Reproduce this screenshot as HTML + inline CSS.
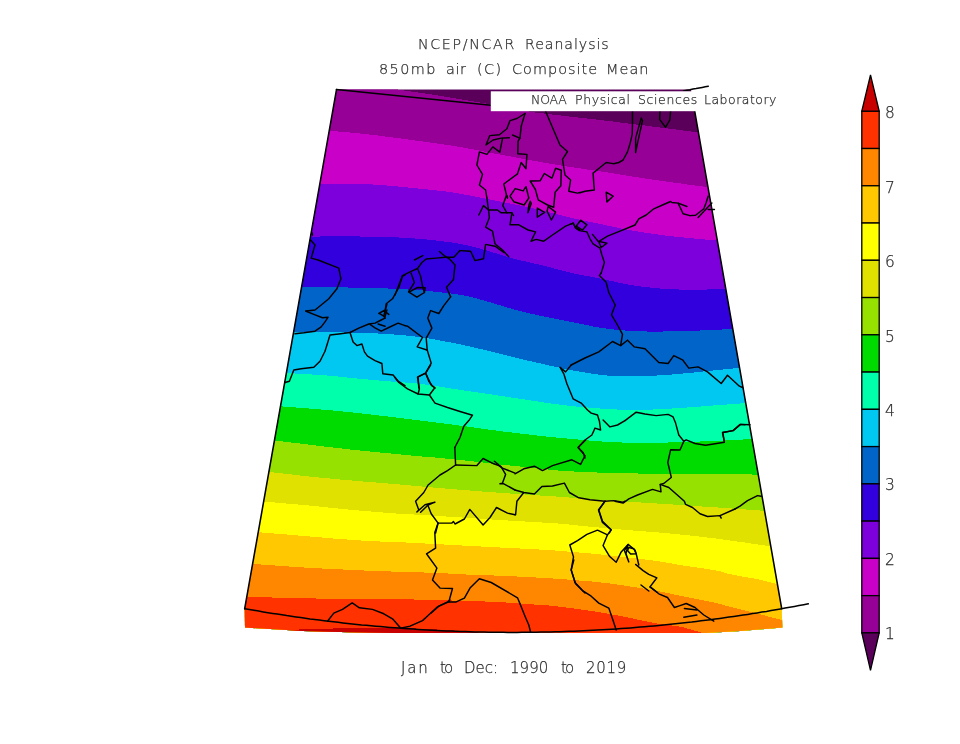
<!DOCTYPE html>
<html><head><meta charset="utf-8"><title>NCEP/NCAR Reanalysis 850mb air (C) Composite Mean</title>
<style>
html,body{margin:0;padding:0;background:#fff;}
body{width:960px;height:744px;position:relative;overflow:hidden;font-family:"DejaVu Sans Light","DejaVu Sans","Liberation Sans",sans-serif;font-weight:200;color:#2e2e2e;}
.t{position:absolute;white-space:nowrap;line-height:1;margin:0;will-change:transform;-webkit-text-stroke:0.25px #2e2e2e;}
</style></head><body>
<svg width="960" height="744" viewBox="0 0 960 744" style="position:absolute;left:0;top:0">
<defs><clipPath id="mapclip"><polygon points="336.5,89.6 244.7,608.7 245.0,627.6 303.0,630.9 350.0,632.3 396.0,633.1 705.0,633.1 740.0,631.0 782.3,627.6 781.7,608.7 690.9,89.6"/></clipPath></defs>
<g clip-path="url(#mapclip)" shape-rendering="crispEdges">
<rect x="200" y="60" width="660" height="620" fill="#5a005a"/>
<polygon points="200.0,56.0 207.9,57.4 218.7,59.2 231.5,61.4 245.6,63.8 260.3,66.3 274.8,68.8 288.3,71.0 300.0,73.0 310.5,74.7 320.5,76.3 330.2,77.8 339.4,79.2 348.0,80.5 356.0,81.8 363.4,82.9 370.0,84.0 375.7,85.0 380.3,85.8 384.2,86.6 387.5,87.3 390.5,88.0 393.4,88.6 396.5,89.2 400.0,89.8 403.8,90.4 407.5,91.0 411.2,91.5 415.0,92.0 418.8,92.6 422.5,93.1 426.2,93.6 430.0,94.2 433.7,94.8 437.5,95.4 441.2,96.0 444.9,96.7 448.7,97.3 452.4,97.9 456.2,98.6 460.0,99.2 463.8,99.8 467.6,100.4 471.3,101.1 475.1,101.7 479.0,102.3 482.9,103.0 486.9,103.7 491.0,104.4 495.3,105.2 500.0,106.1 504.7,107.0 509.5,107.9 514.2,108.9 518.8,109.7 523.1,110.5 527.0,111.2 530.3,111.7 533.0,112.2 535.4,112.5 537.6,112.8 540.0,113.1 542.7,113.4 545.9,113.8 550.0,114.3 555.0,114.9 560.6,115.5 566.8,116.2 573.3,117.0 580.1,117.7 586.9,118.5 593.6,119.2 600.0,120.0 606.3,120.8 612.6,121.5 618.9,122.3 625.2,123.1 631.5,123.9 637.8,124.7 643.9,125.4 650.0,126.2 656.1,127.0 662.1,127.8 668.2,128.5 674.2,129.3 680.0,130.1 685.7,130.8 691.1,131.5 696.3,132.2 701.3,132.8 706.4,133.5 711.3,134.1 716.0,134.7 720.4,135.3 724.2,135.8 727.5,136.2 730.0,136.5 730.0,700.0 200.0,700.0" fill="#960096"/>
<polygon points="300.0,128.5 302.3,128.7 305.4,128.9 309.2,129.2 313.3,129.5 317.6,129.9 321.8,130.2 325.8,130.5 329.2,130.8 332.1,131.0 334.8,131.2 337.2,131.4 339.5,131.6 341.9,131.8 344.3,132.0 347.0,132.2 350.0,132.5 353.2,132.8 356.4,133.1 359.7,133.5 363.2,133.8 366.9,134.2 370.9,134.7 375.2,135.2 380.0,135.8 385.4,136.5 391.6,137.3 398.2,138.2 405.0,139.1 411.8,140.0 418.4,140.9 424.6,141.7 430.0,142.5 434.6,143.1 438.4,143.7 441.8,144.1 445.0,144.6 448.2,145.1 451.6,145.6 455.4,146.2 460.0,147.0 465.3,147.9 471.1,149.0 477.3,150.2 483.8,151.4 490.4,152.7 497.0,154.0 503.6,155.2 510.0,156.4 516.3,157.6 522.7,158.8 529.2,159.9 535.6,161.1 542.0,162.3 548.2,163.4 554.2,164.4 560.0,165.4 565.4,166.3 570.5,167.0 575.3,167.8 580.0,168.4 584.7,169.1 589.5,169.8 594.6,170.5 600.0,171.3 605.7,172.2 611.6,173.1 617.7,174.1 624.0,175.1 630.3,176.2 636.8,177.2 643.4,178.2 650.0,179.2 656.9,180.2 664.2,181.2 671.6,182.3 679.2,183.3 686.6,184.4 693.7,185.3 700.3,186.2 706.3,187.0 711.8,187.7 717.1,188.4 722.1,189.0 726.7,189.5 730.8,190.0 734.5,190.4 737.6,190.7 740.0,191.0 740.0,700.0 300.0,700.0" fill="#c800c8"/>
<polygon points="290.0,183.7 292.3,183.7 295.5,183.7 299.2,183.7 303.3,183.7 307.6,183.7 312.1,183.7 316.3,183.7 320.3,183.7 324.0,183.7 327.8,183.7 331.5,183.7 335.2,183.7 338.9,183.7 342.6,183.7 346.3,183.7 350.0,183.8 353.6,183.9 357.0,183.9 360.3,184.0 363.7,184.1 367.3,184.2 371.1,184.4 375.3,184.7 380.0,185.0 385.4,185.4 391.6,185.9 398.2,186.5 405.0,187.2 411.8,187.8 418.4,188.5 424.6,189.1 430.0,189.7 434.6,190.2 438.7,190.7 442.3,191.1 445.6,191.5 448.9,192.0 452.3,192.4 455.9,193.0 460.0,193.7 464.5,194.5 469.4,195.4 474.4,196.4 479.6,197.4 484.9,198.4 490.0,199.5 495.1,200.5 500.0,201.5 504.7,202.4 509.3,203.4 513.9,204.3 518.4,205.2 522.8,206.1 527.2,207.1 531.6,208.0 536.0,209.0 540.4,210.0 544.7,211.1 549.1,212.2 553.4,213.3 557.6,214.4 561.8,215.5 566.0,216.5 570.0,217.5 573.9,218.4 577.7,219.3 581.4,220.1 585.1,220.9 588.7,221.6 592.4,222.4 596.1,223.2 600.0,224.0 604.0,224.8 608.0,225.7 612.1,226.6 616.3,227.4 620.4,228.3 624.6,229.1 628.8,229.9 633.0,230.7 637.2,231.4 641.4,232.1 645.6,232.8 649.8,233.4 654.1,234.0 658.3,234.6 662.5,235.2 666.7,235.7 671.0,236.2 675.5,236.7 680.0,237.1 684.5,237.6 688.8,238.0 692.9,238.4 696.7,238.7 700.0,239.0 702.7,239.3 704.7,239.5 706.4,239.6 707.8,239.8 709.3,239.9 711.0,240.0 713.1,240.1 715.8,240.3 719.4,240.5 723.9,240.7 728.8,241.0 733.9,241.2 738.9,241.5 743.4,241.7 747.2,241.9 750.0,242.0 750.0,700.0 290.0,700.0" fill="#7d00dc"/>
<polygon points="280.0,236.5 282.3,236.5 285.2,236.5 288.7,236.5 292.7,236.5 296.9,236.5 301.4,236.5 305.9,236.5 310.3,236.5 314.8,236.5 319.6,236.5 324.6,236.4 329.7,236.4 334.8,236.4 340.0,236.4 345.1,236.4 350.0,236.4 354.9,236.4 359.9,236.5 364.9,236.5 369.8,236.6 374.6,236.7 379.3,236.8 383.8,236.9 388.0,237.0 391.9,237.1 395.6,237.3 399.0,237.5 402.3,237.6 405.5,237.8 408.6,238.0 411.8,238.3 415.0,238.5 418.2,238.8 421.4,239.0 424.5,239.3 427.6,239.6 430.7,239.9 433.8,240.3 436.9,240.6 440.0,241.0 443.1,241.4 446.2,241.8 449.4,242.2 452.5,242.6 455.6,243.1 458.8,243.6 461.9,244.2 465.0,244.8 468.1,245.5 471.2,246.3 474.4,247.1 477.5,247.9 480.6,248.8 483.8,249.7 486.9,250.6 490.0,251.5 493.1,252.4 496.2,253.4 499.4,254.3 502.5,255.3 505.6,256.3 508.8,257.2 511.9,258.1 515.0,259.0 518.1,259.8 521.1,260.5 524.0,261.2 527.0,261.8 530.0,262.5 533.2,263.2 536.5,264.0 540.0,264.8 543.8,265.7 547.8,266.8 552.1,267.9 556.4,269.0 560.7,270.2 565.0,271.3 569.1,272.3 573.0,273.2 576.6,274.0 580.0,274.7 583.3,275.3 586.5,276.0 589.7,276.5 593.0,277.1 596.4,277.8 600.0,278.5 603.8,279.3 607.8,280.2 611.9,281.1 616.1,282.0 620.3,282.9 624.6,283.8 628.8,284.6 633.0,285.3 637.2,285.9 641.4,286.5 645.6,287.1 649.8,287.5 654.1,288.0 658.3,288.4 662.5,288.7 666.7,289.0 670.9,289.2 675.2,289.4 679.5,289.5 683.8,289.5 688.1,289.5 692.2,289.5 696.2,289.5 700.0,289.5 703.5,289.5 706.8,289.5 709.9,289.4 712.8,289.3 715.8,289.3 718.9,289.2 722.2,289.1 725.8,289.0 729.9,288.9 734.6,288.8 739.5,288.6 744.5,288.5 749.3,288.3 753.7,288.2 757.3,288.1 760.0,288.0 760.0,700.0 280.0,700.0" fill="#3200dc"/>
<polygon points="270.0,287.3 272.3,287.3 275.2,287.3 278.6,287.3 282.5,287.3 286.8,287.3 291.6,287.3 296.9,287.3 302.5,287.3 308.8,287.3 315.9,287.3 323.6,287.3 331.7,287.4 339.9,287.4 348.0,287.5 355.7,287.6 363.0,287.7 369.9,287.9 376.8,288.1 383.5,288.3 390.1,288.6 396.4,288.9 402.4,289.2 407.9,289.5 413.0,289.8 417.5,290.1 421.4,290.4 424.9,290.7 428.1,291.0 431.0,291.3 433.9,291.6 436.9,291.9 440.0,292.3 443.2,292.7 446.4,293.0 449.5,293.4 452.6,293.7 455.7,294.2 458.8,294.6 461.9,295.1 465.0,295.7 468.1,296.4 471.2,297.1 474.4,297.9 477.5,298.7 480.6,299.6 483.8,300.5 486.9,301.4 490.0,302.3 493.1,303.2 496.2,304.1 499.4,305.1 502.5,306.1 505.6,307.1 508.8,308.0 511.9,308.9 515.0,309.8 518.1,310.6 521.1,311.4 524.0,312.1 527.0,312.8 530.0,313.5 533.2,314.2 536.5,314.9 540.0,315.7 543.8,316.5 547.8,317.3 552.1,318.2 556.4,319.0 560.7,319.9 565.0,320.7 569.1,321.5 573.0,322.3 576.7,323.0 580.2,323.8 583.7,324.5 587.0,325.2 590.3,325.8 593.5,326.5 596.8,327.1 600.0,327.6 603.2,328.1 606.4,328.5 609.5,328.9 612.6,329.3 615.7,329.7 618.8,330.0 621.9,330.2 625.0,330.5 628.1,330.7 631.2,330.9 634.4,331.1 637.5,331.2 640.6,331.3 643.8,331.4 646.9,331.5 650.0,331.5 653.1,331.5 656.2,331.5 659.4,331.5 662.5,331.5 665.6,331.4 668.8,331.3 671.9,331.3 675.0,331.2 678.1,331.1 681.1,331.1 684.0,331.0 687.0,330.9 690.0,330.8 693.2,330.7 696.5,330.6 700.0,330.5 703.7,330.4 707.6,330.2 711.6,330.0 715.8,329.8 720.0,329.6 724.3,329.4 728.6,329.2 733.0,329.0 737.7,328.8 742.8,328.5 748.2,328.2 753.6,327.9 758.7,327.6 763.3,327.4 767.1,327.2 770.0,327.0 770.0,700.0 270.0,700.0" fill="#0064c8"/>
<polygon points="260.0,332.3 262.5,332.3 265.5,332.3 269.2,332.3 273.4,332.3 278.0,332.3 283.0,332.3 288.3,332.3 293.8,332.3 299.9,332.3 306.7,332.3 313.9,332.3 321.5,332.4 329.1,332.4 336.6,332.4 343.6,332.5 350.0,332.6 355.8,332.7 361.4,332.9 366.6,333.0 371.6,333.2 376.4,333.4 381.1,333.7 385.6,333.9 390.0,334.2 394.2,334.5 398.1,334.8 401.8,335.1 405.4,335.4 408.9,335.8 412.5,336.2 416.2,336.7 420.0,337.2 424.0,337.8 428.1,338.4 432.2,339.1 436.4,339.8 440.7,340.6 444.9,341.4 449.1,342.2 453.3,343.0 457.5,343.9 461.6,344.7 465.8,345.7 470.0,346.6 474.2,347.6 478.4,348.5 482.5,349.5 486.7,350.5 490.9,351.5 495.0,352.5 499.2,353.6 503.4,354.6 507.5,355.7 511.7,356.8 515.8,357.8 520.0,358.8 524.2,359.8 528.5,360.8 532.8,361.8 537.1,362.7 541.3,363.7 545.4,364.6 549.5,365.5 553.3,366.3 556.9,367.1 560.3,367.8 563.5,368.5 566.6,369.2 569.8,369.8 573.0,370.5 576.4,371.1 580.0,371.7 583.8,372.3 587.9,373.0 592.0,373.6 596.2,374.2 600.5,374.8 604.8,375.3 609.1,375.7 613.3,376.0 617.5,376.2 621.6,376.4 625.8,376.4 630.0,376.4 634.2,376.4 638.4,376.3 642.5,376.1 646.7,376.0 650.9,375.8 655.0,375.6 659.2,375.4 663.4,375.1 667.5,374.8 671.7,374.5 675.8,374.1 680.0,373.8 684.2,373.4 688.5,373.0 692.9,372.6 697.2,372.2 701.5,371.7 705.6,371.3 709.6,370.9 713.3,370.5 716.7,370.2 719.7,369.9 722.5,369.6 725.1,369.3 727.9,369.0 730.7,368.7 733.9,368.4 737.5,368.0 741.8,367.5 746.8,367.0 752.2,366.4 757.8,365.8 763.1,365.3 767.9,364.8 772.0,364.3 775.0,364.0 775.0,700.0 260.0,700.0" fill="#00c8f0"/>
<polygon points="255.0,371.0 257.5,371.2 260.7,371.3 264.5,371.6 268.8,371.8 273.4,372.1 278.1,372.4 282.9,372.7 287.5,373.0 292.1,373.3 297.0,373.6 302.0,373.9 307.0,374.2 312.1,374.5 317.2,374.8 322.0,375.1 326.7,375.5 331.1,375.9 335.4,376.3 339.6,376.7 343.7,377.1 347.8,377.6 351.8,378.0 355.9,378.4 360.0,378.8 364.2,379.2 368.5,379.6 372.8,380.0 377.1,380.3 381.3,380.7 385.4,381.0 389.5,381.4 393.3,381.7 396.9,382.0 400.3,382.2 403.5,382.4 406.6,382.6 409.8,382.8 413.0,383.1 416.4,383.4 420.0,383.8 423.8,384.3 427.9,384.8 432.0,385.5 436.2,386.1 440.5,386.8 444.8,387.5 449.1,388.2 453.3,388.8 457.5,389.4 461.6,390.1 465.8,390.7 470.0,391.3 474.2,391.9 478.4,392.6 482.5,393.2 486.7,393.8 490.9,394.4 495.0,395.1 499.2,395.7 503.4,396.3 507.5,396.9 511.7,397.6 515.8,398.2 520.0,398.8 524.2,399.4 528.5,400.1 532.8,400.8 537.1,401.4 541.3,402.1 545.4,402.7 549.5,403.3 553.3,403.8 556.9,404.3 560.3,404.7 563.5,405.1 566.6,405.5 569.8,405.8 573.0,406.1 576.4,406.5 580.0,406.8 583.8,407.2 587.9,407.5 592.0,407.9 596.2,408.2 600.5,408.5 604.8,408.8 609.1,409.1 613.3,409.3 617.5,409.5 621.6,409.6 625.8,409.7 630.0,409.8 634.2,409.8 638.4,409.8 642.5,409.8 646.7,409.7 650.9,409.6 655.0,409.4 659.2,409.3 663.4,409.0 667.5,408.8 671.7,408.5 675.8,408.3 680.0,408.0 684.2,407.7 688.3,407.4 692.5,407.1 696.7,406.8 700.9,406.5 705.0,406.1 709.2,405.8 713.3,405.5 717.4,405.2 721.5,404.9 725.5,404.6 729.6,404.3 733.7,404.0 737.7,403.7 741.9,403.3 746.0,403.0 750.4,402.6 755.2,402.2 760.1,401.8 765.0,401.3 769.7,400.9 773.9,400.6 777.4,400.2 780.0,400.0 780.0,700.0 255.0,700.0" fill="#00ffaa"/>
<polygon points="250.0,404.0 252.3,404.2 255.2,404.4 258.6,404.6 262.5,404.9 266.8,405.2 271.3,405.6 276.0,405.9 280.8,406.3 285.9,406.7 291.5,407.1 297.5,407.6 303.6,408.1 309.7,408.6 315.8,409.1 321.5,409.5 326.7,410.0 331.5,410.4 335.9,410.8 340.1,411.2 344.1,411.6 348.1,412.0 352.0,412.4 355.9,412.9 360.0,413.3 364.2,413.8 368.5,414.2 372.8,414.7 377.1,415.3 381.3,415.8 385.4,416.3 389.5,416.7 393.3,417.2 396.9,417.6 400.3,418.0 403.5,418.4 406.6,418.8 409.8,419.2 413.0,419.6 416.4,420.0 420.0,420.5 423.8,421.0 427.9,421.5 432.0,422.0 436.2,422.5 440.5,423.1 444.8,423.6 449.1,424.1 453.3,424.7 457.5,425.3 461.6,425.8 465.8,426.4 470.0,427.0 474.2,427.6 478.4,428.2 482.5,428.7 486.7,429.3 490.9,429.8 495.0,430.4 499.2,430.9 503.4,431.5 507.5,432.0 511.7,432.5 515.8,433.0 520.0,433.5 524.2,434.0 528.5,434.5 532.8,435.0 537.1,435.5 541.3,435.9 545.4,436.4 549.5,436.8 553.3,437.2 556.9,437.6 560.3,437.9 563.5,438.2 566.6,438.5 569.8,438.8 573.0,439.1 576.4,439.4 580.0,439.7 583.8,440.0 587.9,440.4 592.0,440.7 596.2,441.1 600.5,441.4 604.8,441.7 609.1,442.0 613.3,442.2 617.5,442.4 621.6,442.5 625.8,442.6 630.0,442.6 634.2,442.7 638.4,442.7 642.5,442.7 646.7,442.7 650.9,442.7 655.0,442.7 659.2,442.6 663.4,442.6 667.5,442.5 671.7,442.4 675.8,442.3 680.0,442.2 684.1,442.1 688.2,442.0 692.2,441.8 696.3,441.7 700.4,441.5 704.6,441.4 708.9,441.2 713.3,441.0 717.9,440.8 722.7,440.6 727.6,440.3 732.6,440.1 737.7,439.8 742.7,439.5 747.6,439.3 752.5,439.0 757.5,438.7 762.9,438.5 768.3,438.2 773.7,437.9 778.8,437.6 783.3,437.4 787.1,437.2 790.0,437.0 790.0,700.0 250.0,700.0" fill="#00dc00"/>
<polygon points="245.0,437.0 247.2,437.3 249.9,437.6 253.1,437.9 256.8,438.4 260.8,438.8 265.3,439.3 270.0,439.9 275.0,440.5 280.5,441.2 286.8,441.9 293.6,442.8 300.6,443.6 307.7,444.5 314.6,445.3 321.0,446.1 326.7,446.8 331.7,447.4 336.3,447.9 340.5,448.4 344.5,448.8 348.3,449.3 352.1,449.7 356.0,450.1 360.0,450.5 364.2,450.9 368.5,451.4 372.8,451.8 377.1,452.2 381.3,452.6 385.4,453.0 389.5,453.4 393.3,453.8 397.0,454.2 400.8,454.5 404.4,454.9 407.9,455.2 411.3,455.5 414.4,455.8 417.4,456.1 420.0,456.3 422.1,456.5 423.7,456.6 425.0,456.7 426.1,456.7 427.2,456.8 428.6,456.9 430.5,457.1 433.0,457.3 436.2,457.6 440.0,458.0 444.1,458.4 448.6,458.8 453.2,459.3 457.8,459.8 462.4,460.2 466.7,460.7 470.9,461.2 475.1,461.6 479.2,462.1 483.4,462.6 487.5,463.1 491.7,463.6 495.8,464.0 500.0,464.5 504.2,464.9 508.5,465.4 512.8,465.8 517.1,466.2 521.3,466.6 525.4,467.0 529.5,467.4 533.3,467.8 536.9,468.2 540.3,468.6 543.5,469.0 546.6,469.4 549.8,469.7 553.0,470.1 556.4,470.4 560.0,470.7 563.8,471.0 567.9,471.2 572.0,471.4 576.2,471.6 580.5,471.8 584.8,472.0 589.1,472.1 593.3,472.3 597.5,472.5 601.6,472.6 605.8,472.7 610.0,472.9 614.2,473.0 618.4,473.1 622.5,473.2 626.7,473.3 630.8,473.4 634.6,473.4 638.5,473.5 642.3,473.5 646.3,473.6 650.5,473.6 655.0,473.6 660.0,473.7 665.5,473.8 671.4,473.8 677.6,473.9 684.1,474.0 690.7,474.0 697.2,474.1 703.7,474.1 710.0,474.2 716.2,474.2 722.4,474.3 728.6,474.3 734.8,474.4 740.9,474.4 746.8,474.4 752.5,474.5 758.0,474.5 763.4,474.5 768.9,474.6 774.3,474.6 779.5,474.7 784.3,474.7 788.6,474.7 792.2,474.8 795.0,474.8 795.0,700.0 245.0,700.0" fill="#96e100"/>
<polygon points="240.0,469.0 242.2,469.2 245.2,469.5 248.6,469.9 252.5,470.2 256.7,470.7 261.1,471.1 265.4,471.5 269.7,472.0 274.0,472.5 278.5,473.0 283.2,473.5 288.0,474.1 292.8,474.6 297.5,475.2 302.2,475.7 306.7,476.2 311.0,476.7 315.3,477.1 319.5,477.5 323.6,477.9 327.7,478.3 331.8,478.7 335.9,479.1 340.0,479.5 344.2,479.9 348.5,480.2 352.8,480.6 357.1,481.0 361.3,481.3 365.4,481.7 369.5,482.0 373.3,482.3 376.9,482.6 380.3,482.9 383.5,483.1 386.6,483.4 389.8,483.6 393.0,483.9 396.4,484.2 400.0,484.5 403.8,484.8 407.9,485.2 412.0,485.6 416.2,486.0 420.5,486.4 424.8,486.7 429.1,487.1 433.3,487.5 437.5,487.9 441.6,488.2 445.8,488.6 450.0,488.9 454.2,489.3 458.4,489.6 462.5,490.0 466.7,490.3 470.9,490.6 475.0,491.0 479.2,491.3 483.4,491.6 487.5,491.9 491.7,492.2 495.8,492.5 500.0,492.8 504.2,493.1 508.5,493.4 512.8,493.7 517.1,493.9 521.3,494.2 525.4,494.5 529.5,494.7 533.3,495.0 536.9,495.2 540.3,495.5 543.5,495.7 546.6,495.9 549.8,496.1 553.0,496.3 556.4,496.5 560.0,496.8 563.8,497.1 567.9,497.4 572.0,497.8 576.2,498.1 580.5,498.5 584.8,498.8 589.1,499.2 593.3,499.5 597.5,499.8 601.6,500.1 605.8,500.4 610.0,500.6 614.2,500.9 618.4,501.2 622.5,501.4 626.7,501.7 630.8,502.0 634.6,502.2 638.5,502.4 642.3,502.6 646.3,502.9 650.5,503.1 655.0,503.4 660.0,503.7 665.4,504.0 671.2,504.4 677.4,504.8 683.8,505.2 690.3,505.7 696.9,506.1 703.5,506.6 710.0,507.0 716.6,507.4 723.5,507.9 730.5,508.4 737.5,508.9 744.4,509.4 751.1,509.8 757.4,510.3 763.3,510.7 768.9,511.1 774.5,511.5 779.9,511.9 785.0,512.3 789.7,512.7 793.8,513.0 797.3,513.3 800.0,513.5 800.0,700.0 240.0,700.0" fill="#e1e100"/>
<polygon points="235.0,499.0 237.2,499.2 240.1,499.5 243.5,499.8 247.4,500.1 251.6,500.5 256.0,500.9 260.5,501.3 265.0,501.7 269.7,502.1 274.8,502.5 280.1,503.0 285.6,503.5 291.2,503.9 296.6,504.4 301.8,504.9 306.7,505.3 311.3,505.7 315.6,506.2 319.8,506.6 323.9,507.0 327.9,507.5 331.9,507.9 335.9,508.3 340.0,508.7 344.2,509.1 348.5,509.5 352.8,509.9 357.1,510.3 361.3,510.7 365.4,511.0 369.5,511.4 373.3,511.7 376.9,512.0 380.3,512.3 383.5,512.5 386.6,512.8 389.8,513.0 393.0,513.2 396.4,513.5 400.0,513.7 403.8,513.9 407.9,514.2 412.0,514.4 416.2,514.7 420.5,514.9 424.8,515.2 429.1,515.4 433.3,515.7 437.5,516.0 441.6,516.2 445.8,516.5 450.0,516.7 454.2,517.0 458.4,517.3 462.5,517.5 466.7,517.8 470.9,518.1 475.0,518.3 479.2,518.6 483.4,518.9 487.5,519.2 491.7,519.5 495.8,519.7 500.0,520.0 504.2,520.3 508.5,520.5 512.8,520.8 517.1,521.0 521.3,521.3 525.4,521.5 529.5,521.8 533.3,522.0 536.9,522.2 540.3,522.4 543.5,522.6 546.6,522.8 549.8,523.0 553.0,523.2 556.4,523.4 560.0,523.7 563.8,524.0 567.9,524.4 572.0,524.8 576.2,525.3 580.5,525.7 584.8,526.2 589.1,526.6 593.3,527.0 597.5,527.4 601.6,527.8 605.8,528.2 610.0,528.5 614.2,528.9 618.4,529.3 622.5,529.6 626.7,530.0 630.8,530.3 634.6,530.6 638.5,530.9 642.3,531.2 646.3,531.5 650.5,531.8 655.0,532.2 660.0,532.6 665.4,533.1 671.1,533.6 677.1,534.2 683.4,534.8 689.9,535.5 696.5,536.2 703.2,537.0 710.0,537.8 717.1,538.7 724.6,539.7 732.4,540.8 740.3,541.9 748.0,543.0 755.5,544.1 762.5,545.1 768.8,546.0 774.7,546.8 780.3,547.6 785.6,548.3 790.6,549.0 795.1,549.6 799.0,550.2 802.4,550.6 805.0,551.0 805.0,700.0 235.0,700.0" fill="#ffff00"/>
<polygon points="230.0,530.0 232.2,530.2 234.9,530.4 238.2,530.6 241.9,530.9 246.0,531.2 250.4,531.6 255.0,531.9 259.7,532.3 264.8,532.7 270.6,533.2 276.7,533.7 283.0,534.2 289.3,534.7 295.5,535.3 301.4,535.8 306.7,536.2 311.5,536.6 316.0,537.0 320.2,537.4 324.2,537.7 328.1,538.0 332.0,538.4 335.9,538.7 340.0,539.0 344.2,539.3 348.5,539.6 352.8,539.9 357.1,540.2 361.3,540.5 365.4,540.7 369.5,541.0 373.3,541.2 376.9,541.4 380.3,541.5 383.5,541.6 386.6,541.7 389.8,541.8 393.0,541.9 396.4,542.0 400.0,542.2 403.8,542.4 407.9,542.6 412.0,542.8 416.2,543.1 420.5,543.3 424.8,543.5 429.1,543.8 433.3,544.0 437.5,544.2 441.6,544.4 445.8,544.6 450.0,544.9 454.2,545.1 458.4,545.3 462.5,545.5 466.7,545.7 470.9,545.9 475.0,546.1 479.2,546.4 483.4,546.6 487.5,546.8 491.7,547.1 495.8,547.3 500.0,547.5 504.2,547.7 508.6,547.9 513.0,548.2 517.3,548.4 521.6,548.6 525.7,548.8 529.6,549.0 533.3,549.2 536.5,549.4 539.1,549.5 541.4,549.6 543.6,549.7 546.0,549.9 548.7,550.0 551.9,550.3 556.0,550.6 560.9,551.0 566.6,551.5 572.8,552.0 579.3,552.5 586.1,553.1 592.9,553.7 599.6,554.4 606.0,555.0 612.4,555.7 619.1,556.4 625.9,557.2 632.6,558.0 639.2,558.8 645.3,559.5 651.0,560.2 656.0,560.9 660.2,561.5 663.5,562.0 666.4,562.5 668.9,563.0 671.3,563.4 673.8,563.9 676.6,564.4 680.0,565.0 684.1,565.6 688.7,566.3 693.6,567.0 698.6,567.8 703.6,568.5 708.3,569.2 712.5,569.9 716.0,570.5 718.7,571.0 720.7,571.5 722.2,571.9 723.4,572.3 724.5,572.8 725.9,573.2 727.6,573.7 730.0,574.2 733.1,574.8 736.7,575.5 740.6,576.2 744.8,577.0 749.0,577.7 753.0,578.4 756.7,579.1 760.0,579.8 762.7,580.4 764.9,580.9 766.8,581.4 768.6,581.9 770.4,582.4 772.4,582.9 774.7,583.5 777.5,584.2 781.1,585.1 785.3,586.1 790.0,587.2 794.8,588.4 799.5,589.5 803.8,590.5 807.4,591.4 810.0,592.0 810.0,700.0 230.0,700.0" fill="#ffc800"/>
<polygon points="225.0,562.0 227.1,562.1 229.7,562.3 232.9,562.5 236.5,562.8 240.4,563.1 244.7,563.4 249.2,563.7 254.0,564.0 259.1,564.4 264.8,564.8 270.8,565.2 277.0,565.7 283.5,566.1 290.0,566.6 296.4,567.0 302.7,567.4 308.9,567.8 315.3,568.1 321.6,568.5 328.0,568.8 334.4,569.1 340.6,569.4 346.8,569.7 352.7,570.0 358.5,570.3 364.1,570.5 369.7,570.7 375.1,570.9 380.5,571.1 385.8,571.3 390.9,571.5 396.0,571.7 400.9,571.9 405.6,572.0 410.2,572.1 414.7,572.2 419.2,572.3 423.7,572.5 428.4,572.6 433.3,572.8 438.5,573.0 444.0,573.3 449.7,573.6 455.5,573.9 461.1,574.2 466.5,574.5 471.5,574.8 476.0,575.0 479.8,575.2 483.1,575.3 486.0,575.3 488.6,575.4 491.1,575.4 493.8,575.5 496.7,575.6 500.0,575.7 503.8,575.9 507.9,576.0 512.3,576.2 516.7,576.5 521.2,576.7 525.5,576.9 529.6,577.1 533.3,577.3 536.5,577.5 539.1,577.6 541.4,577.7 543.6,577.8 546.0,578.0 548.7,578.2 551.9,578.4 556.0,578.7 560.9,579.1 566.6,579.5 572.8,579.9 579.3,580.5 586.1,581.0 592.9,581.6 599.6,582.3 606.0,583.0 612.4,583.8 619.1,584.8 625.9,585.8 632.6,586.9 639.2,587.9 645.3,589.0 651.0,589.9 656.0,590.8 660.2,591.5 663.5,592.2 666.4,592.8 668.9,593.3 671.3,593.9 673.8,594.5 676.6,595.1 680.0,595.8 684.1,596.6 688.7,597.5 693.6,598.5 698.6,599.5 703.6,600.5 708.3,601.4 712.5,602.3 716.0,603.0 718.5,603.6 720.2,603.9 721.2,604.2 722.0,604.5 722.9,604.8 724.3,605.2 726.6,605.8 730.0,606.7 734.8,607.9 740.8,609.5 747.6,611.2 754.9,613.0 762.4,614.9 769.6,616.8 776.3,618.5 782.2,620.0 787.5,621.4 792.5,622.8 797.4,624.1 801.9,625.3 806.0,626.5 809.6,627.5 812.6,628.3 815.0,629.0 815.0,700.0 225.0,700.0" fill="#ff8700"/>
<polygon points="220.0,595.5 222.0,595.6 224.5,595.7 227.5,595.8 230.9,596.0 234.7,596.2 238.9,596.3 243.5,596.5 248.5,596.7 254.1,596.9 260.3,597.1 267.1,597.3 274.3,597.6 281.6,597.8 288.8,598.0 296.0,598.2 302.7,598.3 309.2,598.4 315.7,598.5 322.1,598.5 328.4,598.6 334.6,598.6 340.8,598.6 346.8,598.7 352.7,598.7 358.4,598.8 363.8,598.8 369.1,598.9 374.3,598.9 379.6,599.0 384.9,599.0 390.3,599.1 396.0,599.2 401.9,599.3 408.0,599.4 414.3,599.5 420.6,599.7 427.0,599.8 433.3,600.0 439.7,600.1 446.0,600.3 452.4,600.5 458.9,600.7 465.5,600.9 472.0,601.1 478.5,601.3 484.7,601.5 490.5,601.8 496.0,602.0 501.0,602.3 505.7,602.5 510.0,602.8 514.1,603.1 518.0,603.4 521.8,603.6 525.6,603.9 529.3,604.2 532.8,604.4 535.9,604.6 538.8,604.8 541.6,605.0 544.6,605.2 547.8,605.4 551.6,605.8 556.0,606.3 561.1,606.9 566.9,607.6 573.0,608.4 579.5,609.3 586.2,610.2 593.0,611.2 599.6,612.2 606.0,613.3 612.4,614.5 619.1,615.7 625.9,617.1 632.6,618.5 639.2,619.9 645.3,621.2 651.0,622.3 656.0,623.3 660.3,624.0 663.9,624.5 666.9,624.9 669.7,625.2 672.2,625.5 674.7,625.8 677.2,626.2 680.0,626.7 682.9,627.3 685.7,628.0 688.5,628.8 691.3,629.6 694.1,630.4 697.0,631.2 699.9,632.1 703.0,633.0 706.4,634.0 710.1,635.1 714.0,636.2 717.9,637.4 721.7,638.5 725.1,639.5 727.9,640.4 730.0,641.0 730.0,700.0 220.0,700.0" fill="#ff3200"/>
<polygon points="270.0,634.0 271.4,633.7 273.1,633.2 275.1,632.7 277.4,632.1 280.2,631.5 283.3,630.9 286.9,630.4 291.0,630.0 295.7,629.7 301.1,629.4 307.0,629.2 313.3,629.0 319.9,628.8 326.6,628.7 333.3,628.5 340.0,628.4 346.7,628.3 353.6,628.2 360.8,628.1 367.9,628.0 375.1,627.9 382.3,627.9 389.2,627.9 396.0,628.0 402.7,628.1 409.3,628.3 415.9,628.5 422.4,628.8 428.8,629.1 434.8,629.4 440.6,629.7 446.0,630.0 451.0,630.3 455.7,630.6 460.1,630.9 464.3,631.3 468.3,631.6 472.0,632.0 475.6,632.3 479.0,632.6 482.3,632.9 485.6,633.3 488.7,633.6 491.6,634.0 494.2,634.3 496.5,634.6 498.5,634.8 500.0,635.0 500.0,700.0 270.0,700.0" fill="#c80000"/>
</g>
<g fill="none" stroke="#000" stroke-width="1.55" stroke-linejoin="round" stroke-linecap="round">
<polyline points="336.5,89.6 490.8,105.3"/>
<polyline points="683.8,90.7 686.9,90.2 689.9,89.7 693.0,89.1 696.1,88.6 699.1,88.0 702.2,87.4 705.2,86.8 708.3,86.2"/>
<polyline points="244.7,608.7 249.4,609.5 254.0,610.3 258.7,611.1 263.3,611.9 268.0,612.7 272.6,613.4 277.3,614.1 282.0,614.8 286.7,615.6 291.3,616.2 296.0,616.9 300.7,617.6 305.4,618.2 310.0,618.9 314.7,619.5 319.4,620.1 324.1,620.7 328.8,621.2 333.5,621.8 338.2,622.3 342.9,622.9 347.6,623.4 352.3,623.9 356.9,624.4 361.6,624.9 366.4,625.3 371.1,625.8 375.8,626.2 380.5,626.6 385.2,627.0 389.9,627.4 394.6,627.8 399.3,628.1 404.0,628.5 408.7,628.8 413.4,629.1 418.1,629.4 422.9,629.7 427.6,630.0 432.3,630.2 437.0,630.5 441.7,630.7 446.4,630.9 451.2,631.1 455.9,631.3 460.6,631.5 465.3,631.6 470.1,631.8 474.8,631.9 479.5,632.0 484.2,632.1 488.9,632.2 493.7,632.2 498.4,632.3 503.1,632.3 507.8,632.4 512.6,632.4 517.3,632.4 522.0,632.3 526.7,632.3 531.5,632.3 536.2,632.2 540.9,632.1 545.6,632.0 550.3,631.9 555.1,631.8 559.8,631.7 564.5,631.5 569.2,631.3 573.9,631.2 578.7,631.0 583.4,630.8 588.1,630.5 592.8,630.3 597.5,630.1 602.3,629.8 607.0,629.5 611.7,629.2 616.4,628.9 621.1,628.6 625.8,628.2 630.5,627.9 635.2,627.5 640.0,627.1 644.7,626.7 649.4,626.3 654.1,625.9 658.8,625.5 663.5,625.0 668.2,624.5 672.9,624.1 677.6,623.6 682.3,623.0 687.0,622.5 691.7,622.0 696.3,621.4 701.0,620.8 705.7,620.3 710.4,619.7 715.1,619.1 719.8,618.4 724.4,617.8 729.1,617.1 733.8,616.5 738.5,615.8 743.1,615.1 747.8,614.4 752.5,613.6 757.1,612.9 761.8,612.1 766.5,611.4 771.1,610.6 775.8,609.8 780.4,609.0 785.1,608.1 789.7,607.3 794.4,606.4 799.0,605.6 803.7,604.7 808.3,603.8"/>
<line x1="336.5" y1="89.6" x2="244.7" y2="608.7"/>
<line x1="694.7" y1="111.2" x2="781.7" y2="608.7"/>
</g>
<g fill="none" stroke="#000" stroke-width="1.45" stroke-linejoin="round" stroke-linecap="round">
<polyline points="525.0,113.5 516.9,118.5 510.0,120.6 506.9,128.8 499.4,134.8 489.8,135.6 486.0,145.0 493.1,140.0 501.2,138.1 509.4,137.8"/>
<polyline points="502.5,138.5 499.8,152.2 492.8,146.9 486.9,154.4 479.4,151.9 476.9,165.0 482.5,174.4 479.4,185.0 485.6,190.0 486.9,198.0"/>
<polyline points="525.0,113.5 521.2,126.2 520.0,137.8 518.1,141.2 517.8,153.8 526.9,154.4 526.0,168.8 521.2,162.5 517.5,173.8 503.8,184.0 506.5,195.0 507.5,198.0"/>
<polyline points="512.5,135.0 519.8,138.1"/>
<polyline points="545.6,111.2 552.5,127.5 560.0,145.0 567.5,151.5 562.5,159.4 565.0,175.0 570.6,180.0 568.8,191.2 577.5,193.1 580.0,192.5"/>
<polyline points="632.5,111.2 632.5,123.8 632.2,134.4 630.0,143.8 627.5,151.9 623.1,160.0 618.8,162.5 613.8,163.8 610.0,163.1 606.2,162.5 600.0,167.5 593.1,173.1 593.8,183.8 594.4,190.0 585.0,191.2 580.0,192.8"/>
<polyline points="641.2,118.1 642.5,120.6 636.9,146.2 635.6,152.5 635.6,138.1 641.2,118.1"/>
<polyline points="660.0,111.2 659.6,119.4 665.6,127.2 669.8,120.0 670.6,111.2"/>
<polyline points="486.9,198.0 488.5,210.0 489.4,217.5 485.6,227.2 492.5,231.2 495.0,243.8 502.5,250.0 508.5,256.5"/>
<polyline points="503.8,252.5 495.0,246.2 485.6,244.4 483.5,258.8 475.0,260.6 470.6,251.2 460.0,250.6"/>
<polyline points="478.8,215.0 483.5,205.6 488.5,210.0 497.5,210.0 501.2,212.8 511.9,212.8 513.5,215.6"/>
<polyline points="507.5,198.0 506.5,195.0 502.8,205.6 506.9,212.8"/>
<polyline points="511.9,212.8 510.0,224.8 518.8,224.8 528.1,230.0 535.6,231.9 531.0,241.2 536.2,239.4 543.8,241.2 552.5,235.0 565.6,226.2 573.1,223.1 575.6,227.5 580.0,230.0"/>
<polyline points="606.2,192.2 613.1,196.2 606.9,201.9 606.2,192.2"/>
<polyline points="580.6,220.2 586.9,224.8 582.5,230.0 576.2,226.2 580.6,220.2"/>
<polyline points="570.0,224.4 573.1,223.1 575.6,228.1 579.4,230.6 586.9,231.9 590.0,238.8 593.1,243.8 600.0,248.1 601.9,255.0 604.4,262.5 601.2,273.0"/>
<polyline points="592.5,234.4 598.1,241.2 606.9,243.1 601.2,247.5 598.8,241.9"/>
<polyline points="599.4,241.2 607.5,236.2 620.0,231.2 635.0,225.0 638.8,218.8 646.2,215.0 653.8,208.8 662.5,205.0 670.6,201.5 671.9,202.5 678.1,203.1 686.9,206.5"/>
<polyline points="678.1,203.1 683.1,213.8 690.0,215.6"/>
<polyline points="690.0,215.6 695.6,215.2 703.8,208.8 706.2,202.5 708.1,196.2"/>
<polyline points="698.1,217.5 707.5,207.5 711.9,203.1"/>
<polyline points="708.1,209.4 714.4,209.4"/>
<polyline points="311.9,232.5 312.5,235.0"/>
<polyline points="310.6,240.0 315.0,245.0 311.2,258.1 318.1,260.0 338.8,268.1 340.9,278.8 336.9,288.8 328.8,298.8 321.2,305.0 315.0,310.0 306.2,311.0"/>
<polyline points="305.6,311.0 313.8,314.4 322.5,317.8 328.1,317.2 325.0,321.9 321.2,326.9 315.0,331.2 303.8,332.8 295.0,333.8"/>
<polyline points="285.0,382.5 289.4,381.2 293.8,370.0 301.2,368.8 313.8,367.2 320.0,361.2 325.0,351.2 328.1,341.2 330.0,335.0 338.8,334.0 350.0,332.5 358.8,328.1 368.8,324.0 375.0,323.1 381.2,320.0 385.0,318.1"/>
<polyline points="405.0,275.0 402.5,276.2 398.8,287.5 392.5,298.8 386.2,303.8 385.0,311.2"/>
<polyline points="386.9,304.4 385.0,311.2 383.8,316.2 385.0,318.1"/>
<polyline points="378.8,313.5 383.8,310.6 388.8,314.4"/>
<polyline points="380.0,313.8 385.0,316.9 386.9,310.0"/>
<polyline points="378.1,324.0 385.0,326.2"/>
<polyline points="370.0,324.4 375.0,327.8 381.2,331.2 388.8,327.5 398.1,323.1 405.0,325.6"/>
<polyline points="350.0,332.5 353.1,341.9 356.9,345.6 361.9,344.0 364.4,351.9 367.5,356.2 375.0,360.6 381.9,363.5 382.8,373.8 393.1,375.0 398.1,381.2 405.0,385.6"/>
<polyline points="460.0,250.6 453.8,257.2 445.0,257.2 436.2,258.1 426.2,259.0 421.9,262.5 417.5,268.5 410.0,271.9 402.5,275.6 395.0,295.0"/>
<polyline points="414.4,260.0 422.8,255.6"/>
<polyline points="439.4,251.5 445.0,256.2 450.0,259.4 455.0,265.0 453.5,279.4 446.5,287.2 450.6,296.9"/>
<polyline points="417.5,268.5 420.6,276.2 422.8,287.5 424.4,292.5 416.9,297.2 408.5,291.9 414.4,282.5 411.0,273.1"/>
<polyline points="409.4,291.9 417.5,287.5 425.2,287.8 424.4,292.5"/>
<polyline points="450.6,296.9 443.8,305.6 438.8,313.5 430.6,310.6 427.8,318.1 431.9,328.1 426.2,338.1 427.2,350.0 431.2,363.1 425.6,373.1 428.8,381.2 432.5,386.2 435.0,388.0"/>
<polyline points="425.6,373.1 418.1,376.9 418.8,388.0"/>
<polyline points="405.0,325.6 407.5,326.2 422.5,337.5 417.2,346.9 426.9,350.0"/>
<polyline points="430.6,365.0 425.6,373.1 417.5,377.1 419.4,388.8 418.1,394.0 429.4,395.0 434.8,387.8 431.2,385.0 425.6,373.1"/>
<polyline points="395.0,377.5 398.8,382.5 407.5,388.8 418.1,394.0"/>
<polyline points="429.4,395.0 435.0,403.1 447.5,407.5 460.0,411.5 472.5,415.2 468.8,420.6 463.8,426.2 460.0,437.5 454.8,447.5"/>
<polyline points="454.8,447.5 455.6,465.0"/>
<polyline points="455.6,465.0 476.9,465.6 483.1,458.5 493.8,463.8 498.8,465.6 502.5,468.1 515.0,473.1"/>
<polyline points="494.4,461.2 501.2,466.9 505.6,474.4 502.5,483.1 500.0,483.8 503.8,483.8 515.0,490.0"/>
<polyline points="455.6,465.0 447.5,470.6 440.0,475.0 428.1,485.0 423.8,492.5 415.6,501.2 418.8,510.0 416.9,511.9 425.0,504.8 435.0,502.2 428.1,505.0 420.6,512.2"/>
<polyline points="427.8,505.0 431.2,513.8 438.1,523.1 435.6,533.0"/>
<polyline points="438.1,523.1 451.9,523.1 453.5,521.5 455.0,524.0 464.4,519.0 469.8,509.4 483.1,525.0 490.0,517.5 496.5,507.5 507.5,513.1 515.0,514.8"/>
<polyline points="515.0,473.8 523.8,468.8 534.4,466.2 542.5,470.6 552.5,465.6 571.9,459.8 580.6,464.4 585.0,455.6 578.1,447.5 585.6,440.0"/>
<polyline points="515.0,490.0 523.8,492.5 534.4,494.0 541.9,486.5 552.5,486.0 564.4,483.1 569.4,492.5 578.8,497.8 590.0,499.8 605.0,501.2 613.8,500.6 623.1,502.2 625.0,501.2"/>
<polyline points="523.8,492.5 516.9,501.2 515.6,514.8 515.0,514.8"/>
<polyline points="605.0,501.2 598.8,510.0 602.5,521.2 611.2,529.8 609.4,533.0"/>
<polyline points="571.2,365.0 565.6,371.9 560.0,367.2 563.8,373.8 566.9,383.8 573.1,398.8 581.2,403.1 587.5,410.0 591.2,413.1 597.5,415.0 599.4,421.2 600.6,430.0 595.0,428.1 591.9,435.0 585.0,440.0 578.1,447.5 583.1,452.5 585.0,458.0"/>
<polyline points="603.1,420.0 610.0,426.9 617.5,425.0 625.0,420.6"/>
<polyline points="601.2,273.0 599.4,275.6 606.0,281.9 608.8,292.5 615.2,305.0 611.5,314.8 617.5,325.0 622.5,334.4 620.6,345.6"/>
<polyline points="571.2,365.0 585.0,358.0 598.8,351.9 612.5,341.5 620.6,345.6 627.5,340.2"/>
<polyline points="627.5,340.2 634.4,346.9 645.0,348.8 658.8,362.5 668.1,363.5 673.8,355.6 682.5,359.8 688.8,368.1 698.1,366.9 707.5,371.9 721.2,383.5 727.5,375.2 739.4,386.2 742.5,387.5"/>
<polyline points="625.0,420.6 636.2,412.2 645.0,414.0 656.2,415.6 668.1,414.4 673.1,416.9 675.6,423.1 678.8,435.0 683.8,441.2"/>
<polyline points="683.8,441.2 680.0,450.0 670.6,449.8 667.8,462.5 671.2,476.9"/>
<polyline points="683.8,441.2 686.2,439.8 695.0,443.5 705.6,445.2 724.4,442.2 722.5,432.5 733.1,430.6 740.6,424.4 745.0,424.8"/>
<polyline points="605.0,501.2 598.5,510.0 602.5,522.5 611.0,529.8 607.5,534.8"/>
<polyline points="607.5,534.8 603.1,545.6 609.4,556.2 616.2,562.2 621.2,551.9 628.1,544.4 635.0,550.0 636.5,555.0 638.8,565.0"/>
<polyline points="607.5,534.8 597.5,530.2 586.9,534.4 577.5,540.6 569.8,545.0 573.5,556.9 571.2,570.0 575.6,583.8 585.0,593.0"/>
<polyline points="628.1,544.4 624.4,550.6 628.8,561.9 626.0,553.8 628.1,544.4"/>
<polyline points="628.8,547.5 633.8,548.8 636.2,553.8 630.6,554.0 627.5,550.6 628.8,547.5"/>
<polyline points="635.6,564.4 643.1,570.6 648.8,574.4 656.9,577.8 650.0,586.9 657.5,592.5"/>
<polyline points="641.0,585.0 648.8,591.0"/>
<polyline points="650.0,586.9 658.8,593.8 667.5,597.5 674.4,607.5 680.0,605.6 686.2,603.5 695.0,607.5 703.8,615.0 713.8,621.2"/>
<polyline points="684.4,608.5 696.9,610.0"/>
<polyline points="683.8,617.2 696.9,615.0"/>
<polyline points="573.8,560.0 571.2,570.0 575.0,582.5 582.5,590.6 591.2,596.2 598.8,603.1 608.8,608.1 612.5,618.8 616.2,630.0"/>
<polyline points="520.0,603.8 525.0,616.2 528.8,625.0 530.6,632.2"/>
<polyline points="438.1,523.1 434.8,532.5 435.6,548.1 426.5,553.8 436.9,568.1 432.5,580.0 440.0,588.1 452.5,588.5 448.8,601.9"/>
<polyline points="431.2,613.0 438.8,606.2 448.8,601.9 456.2,601.9 464.4,598.1 470.0,588.1 479.4,578.8 491.2,582.5 517.5,597.8 520.0,603.8"/>
<polyline points="327.5,621.2 333.8,613.1 342.5,609.4 352.2,602.8 359.4,607.8 372.5,609.4 383.8,613.8 392.5,618.8 400.6,628.1"/>
<polyline points="400.6,628.1 410.0,626.2 422.5,620.6 430.0,613.8 437.5,606.9 447.5,601.9 450.0,600.0"/>
<polyline points="671.2,477.5 663.8,483.5 660.2,484.4 661.0,491.9 652.5,489.4 637.5,495.0 628.8,498.8 623.1,503.1 615.0,501.2"/>
<polyline points="660.2,484.4 668.8,487.5 684.4,501.2 685.6,504.4 692.5,507.5 700.0,513.8 707.5,516.5 720.0,515.6 721.2,518.1"/>
<polyline points="720.0,515.6 735.0,509.0"/>
<polyline points="724.4,442.2 722.8,432.5 733.1,430.6 740.2,424.4 750.0,424.8"/>
<polyline points="735.0,509.0 740.0,506.2 747.5,500.6 757.5,495.6 761.2,496.2"/>
<polyline points="530.2,181.0 540.1,180.8 544.3,173.5 551.9,178.2 555.6,168.3 561.3,170.2 560.8,185.7 555.1,192.3 553.7,207.2 547.6,205.0 538.2,199.8 535.4,189.5 530.2,181.0"/>
<polyline points="548.1,206.4 555.6,212.1 551.4,220.0 547.1,211.1 548.1,206.4"/>
<polyline points="537.3,208.1 544.6,212.3 537.3,217.2 537.3,208.1"/>
<polyline points="530.2,201.3 531.3,203.6 527.9,212.8 528.8,205.5 530.2,201.3"/>
<polyline points="510.0,196.1 515.2,188.6 523.2,190.9 526.0,186.7 528.8,198.0 524.1,205.0 513.8,201.7 510.0,196.1"/>
</g>
<rect x="490.8" y="91.3" width="330" height="19.9" fill="#fff"/>
<g stroke="#000" stroke-width="1.3" stroke-linejoin="miter">
<rect x="861.80" y="111.25" width="17.40" height="37.26" fill="#ff3200"/>
<rect x="861.80" y="148.51" width="17.40" height="37.26" fill="#ff8700"/>
<rect x="861.80" y="185.77" width="17.40" height="37.26" fill="#ffc800"/>
<rect x="861.80" y="223.03" width="17.40" height="37.26" fill="#ffff00"/>
<rect x="861.80" y="260.29" width="17.40" height="37.26" fill="#e1e100"/>
<rect x="861.80" y="297.55" width="17.40" height="37.26" fill="#96e100"/>
<rect x="861.80" y="334.81" width="17.40" height="37.26" fill="#00dc00"/>
<rect x="861.80" y="372.07" width="17.40" height="37.26" fill="#00ffaa"/>
<rect x="861.80" y="409.34" width="17.40" height="37.26" fill="#00c8f0"/>
<rect x="861.80" y="446.60" width="17.40" height="37.26" fill="#0064c8"/>
<rect x="861.80" y="483.86" width="17.40" height="37.26" fill="#3200dc"/>
<rect x="861.80" y="521.12" width="17.40" height="37.26" fill="#7d00dc"/>
<rect x="861.80" y="558.38" width="17.40" height="37.26" fill="#c800c8"/>
<rect x="861.80" y="595.64" width="17.40" height="37.26" fill="#960096"/>
<polygon points="861.8,111.2 879.2,111.2 870.5,75.0" fill="#c80000"/>
<polygon points="861.8,632.9 879.2,632.9 870.5,670.4" fill="#5a005a"/>
</g>
</svg>
<span class="t" style="left:418.2px;top:37.2px;font-size:14.13px;letter-spacing:1.71px;">NCEP/NCAR</span>
<span class="t" style="left:525.0px;top:37.2px;font-size:14.13px;letter-spacing:0.96px;">Reanalysis</span>
<span class="t" style="left:379.0px;top:61.5px;font-size:14.40px;letter-spacing:1.42px;">850mb</span>
<span class="t" style="left:446.0px;top:61.5px;font-size:14.40px;letter-spacing:0.65px;">air</span>
<span class="t" style="left:476.5px;top:61.5px;font-size:14.40px;letter-spacing:1.40px;">(C)</span>
<span class="t" style="left:511.5px;top:61.5px;font-size:14.40px;letter-spacing:1.04px;">Composite</span>
<span class="t" style="left:605.5px;top:61.5px;font-size:14.40px;letter-spacing:1.07px;">Mean</span>
<span class="t" style="left:531.2px;top:93.6px;font-size:12.48px;letter-spacing:-0.20px;">NOAA</span>
<span class="t" style="left:575.0px;top:93.6px;font-size:12.48px;letter-spacing:0.61px;">Physical</span>
<span class="t" style="left:638.0px;top:93.6px;font-size:12.48px;letter-spacing:0.63px;">Sciences</span>
<span class="t" style="left:704.1px;top:93.6px;font-size:12.48px;letter-spacing:0.50px;">Laboratory</span>
<span class="t" style="left:401.3px;top:661.3px;font-size:14.99px;letter-spacing:1.85px;">Jan</span>
<span class="t" style="left:440.0px;top:661.3px;font-size:14.99px;letter-spacing:-2.00px;">to</span>
<span class="t" style="left:464.0px;top:661.3px;font-size:14.99px;letter-spacing:0.00px;">Dec:</span>
<span class="t" style="left:510.3px;top:661.3px;font-size:14.99px;letter-spacing:0.07px;">1990</span>
<span class="t" style="left:561.3px;top:661.3px;font-size:14.99px;letter-spacing:-2.00px;">to</span>
<span class="t" style="left:586.3px;top:661.3px;font-size:14.99px;letter-spacing:0.73px;">2019</span>

<div class="t lab" style="left:884.6px;top:106.2px;font-size:15.4px;">8</div>
<div class="t lab" style="left:884.6px;top:180.6px;font-size:15.4px;">7</div>
<div class="t lab" style="left:884.6px;top:255.1px;font-size:15.4px;">6</div>
<div class="t lab" style="left:884.6px;top:329.5px;font-size:15.4px;">5</div>
<div class="t lab" style="left:884.6px;top:404.0px;font-size:15.4px;">4</div>
<div class="t lab" style="left:884.6px;top:478.4px;font-size:15.4px;">3</div>
<div class="t lab" style="left:884.6px;top:552.9px;font-size:15.4px;">2</div>
<div class="t lab" style="left:884.6px;top:627.3px;font-size:15.4px;">1</div>

</body></html>
